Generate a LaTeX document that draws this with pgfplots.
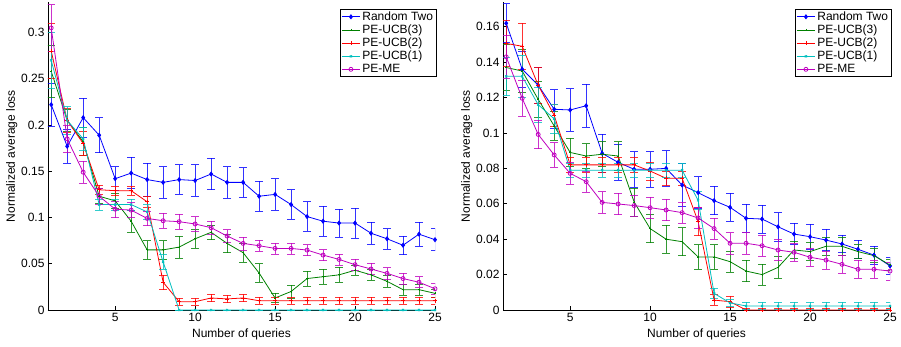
\documentclass[border=0pt]{standalone}
\usepackage{fontspec}
\setmainfont{Liberation Sans}
\usepackage{pgfplots}
\pgfplotsset{compat=1.18}
\definecolor{mblue}{rgb}{0,0,1}
\definecolor{mgreen}{rgb}{0,0.5,0}
\definecolor{mred}{rgb}{1,0,0}
\definecolor{mcyan}{rgb}{0,0.75,0.75}
\definecolor{mmag}{rgb}{0.75,0,0.75}
\pgfplotsset{
  mystyle/.style={
    scale only axis, width=387pt, height=308pt,
    xmin=0.8, xmax=25, ymin=0,
    axis lines*=left,
    xtick={5,10,15,20,25},
    tick align=inside,
    major tick length=4pt,
    tick style={black, line width=0.6pt},
    axis line style={black, line width=0.8pt},
    tick label style={font=\fontsize{12}{14}\selectfont},
    label style={font=\fontsize{12}{14}\selectfont},
    /pgf/number format/assume math mode=true,
    scaled y ticks=false,
    yticklabel style={/pgf/number format/fixed, /pgf/number format/precision=2},
    xlabel={Number of queries}, ylabel={Normalized average loss},
    ylabel style={yshift=-3pt},
    legend style={at={(rel axis cs:1.005,0.978)}, anchor=north east, draw=black, line width=0.8pt,
      font=\fontsize{12}{13}\selectfont, inner sep=1.5pt, row sep=1pt, cells={anchor=west},
      nodes={inner ysep=1pt, inner xsep=2pt}},
  },
  ser/.style n args={3}{color=#1, mark=#2, mark size=#3, line width=0.8pt, mark options={solid, fill=#1},
    /pgfplots/error bars/y dir=both, /pgfplots/error bars/y explicit,
    /pgfplots/error bars/error bar style={line width=0.7pt, #1, opacity=0.8},
    /pgfplots/error bars/error mark options={rotate=90, #1, mark size=4pt, line width=0.7pt, opacity=0.8},
    /pgfplots/legend image code/.code={\draw[color=#1, line width=0.8pt, mark=#2, mark size=#3,
      mark options={solid, fill=#1}, mark repeat=2, mark phase=2]
      plot coordinates {(0pt,0pt) (9pt,0pt) (18pt,0pt)};}},
}
\begin{document}
\begin{tikzpicture}
\useasboundingbox (-48pt,-36pt) rectangle (853pt,310pt);
\begin{axis}[mystyle, ymax=0.333, ytick={0,0.05,0.1,0.15,0.2,0.25,0.3}]
\addplot[ser={mblue}{diamond*}{2pt}] table[x=x,y=y,y error=e] {
x y e
1 0.222 0.023
2 0.177 0.018
3 0.208 0.021
4 0.189 0.019
5 0.142 0.013
6 0.148 0.017
7 0.141 0.018
8 0.138 0.017
9 0.141 0.016
10 0.140 0.017
11 0.147 0.017
12 0.138 0.017
13 0.138 0.016
14 0.123 0.016
15 0.125 0.017
16 0.114 0.016
17 0.101 0.016
18 0.096 0.016
19 0.094 0.015
20 0.094 0.016
21 0.083 0.012
22 0.077 0.011
23 0.070 0.010
24 0.082 0.013
25 0.076 0.012
};
\addlegendentry{Random Two}
\addplot[ser={mgreen}{+}{1pt}] table[x=x,y=y,y error=e] {
x y e
1 0.258 0.028
2 0.205 0.012
3 0.182 0.015
4 0.123 0.008
5 0.118 0.008
6 0.096 0.012
7 0.065 0.010
8 0.065 0.010
9 0.068 0.012
10 0.077 0.010
11 0.084 0.008
12 0.072 0.010
13 0.062 0.010
14 0.040 0.010
15 0.013 0.005
16 0.020 0.007
17 0.034 0.008
18 0.036 0.008
19 0.038 0.008
20 0.043 0.005
21 0.038 0.006
22 0.031 0.006
23 0.022 0.006
24 0.022 0.006
25 0.018 0.004
};
\addlegendentry{PE-UCB(3)}
\addplot[ser={mred}{+}{2pt}] table[x=x,y=y,y error=e] {
x y e
1 0.280 0.030
2 0.205 0.013
3 0.180 0.013
4 0.130 0.005
5 0.129 0.005
6 0.129 0.005
7 0.117 0.006
8 0.030 0.008
9 0.009 0.004
10 0.009 0.004
11 0.013 0.004
12 0.012 0.004
13 0.013 0.004
14 0.010 0.004
15 0.010 0.004
16 0.010 0.004
17 0.010 0.004
18 0.010 0.004
19 0.010 0.004
20 0.010 0.004
21 0.010 0.004
22 0.010 0.004
23 0.010 0.004
24 0.010 0.004
25 0.010 0.004
};
\addlegendentry{PE-UCB(2)}
\addplot[ser={mcyan}{x}{1.5pt}] table[x=x,y=y,y error=e] {
x y e
1 0.270 0.030
2 0.205 0.015
3 0.185 0.012
4 0.114 0.006
5 0.114 0.006
6 0.114 0.006
7 0.106 0.008
8 0.052 0.008
9 0 0
10 0 0
11 0 0
12 0 0
13 0 0
14 0 0
15 0 0
16 0 0
17 0 0
18 0 0
19 0 0
20 0 0
21 0 0
22 0 0
23 0 0
24 0 0
25 0 0
};
\addlegendentry{PE-UCB(1)}
\addplot[ser={mmag}{o}{2pt}] table[x=x,y=y,y error=e] {
x y e
1 0.305 0.025
2 0.185 0.015
3 0.149 0.012
4 0.123 0.009
5 0.109 0.009
6 0.108 0.008
7 0.099 0.008
8 0.0965 0.008
9 0.0955 0.008
10 0.093 0.008
11 0.089 0.007
12 0.080 0.007
13 0.072 0.007
14 0.0695 0.006
15 0.0666 0.006
16 0.0666 0.006
17 0.0648 0.006
18 0.0594 0.006
19 0.0547 0.006
20 0.049 0.006
21 0.0443 0.006
22 0.0396 0.006
23 0.034 0.006
24 0.030 0.006
25 0.023 0.006
};
\addlegendentry{PE-ME}
\end{axis}
\begin{axis}[mystyle, at={(455pt,0pt)}, ymax=0.174, ytick={0,0.02,0.04,0.06,0.08,0.1,0.12,0.14,0.16}]
\addplot[ser={mblue}{diamond*}{2pt}] table[x=x,y=y,y error=e] {
x y e
1 0.162 0.011
2 0.136 0.010
3 0.127 0.010
4 0.1134 0.011
5 0.113 0.012
6 0.1154 0.012
7 0.0885 0.011
8 0.0834 0.010
9 0.0795 0.010
10 0.0795 0.010
11 0.080 0.010
12 0.0706 0.012
13 0.0663 0.009
14 0.0618 0.008
15 0.058 0.008
16 0.0518 0.008
17 0.0514 0.008
18 0.047 0.008
19 0.0429 0.006
20 0.0414 0.007
21 0.0395 0.006
22 0.0373 0.005
23 0.0343 0.005
24 0.031 0.005
25 0.0249 0.005
};
\addlegendentry{Random Two}
\addplot[ser={mgreen}{+}{1pt}] table[x=x,y=y,y error=e] {
x y e
1 0.137 0.013
2 0.135 0.012
3 0.119 0.010
4 0.104 0.008
5 0.089 0.008
6 0.087 0.007
7 0.088 0.007
8 0.087 0.008
9 0.061 0.008
10 0.046 0.008
11 0.040 0.008
12 0.0386 0.008
13 0.030 0.007
14 0.030 0.007
15 0.0273 0.006
16 0.022 0.006
17 0.020 0.006
18 0.0241 0.006
19 0.0339 0.005
20 0.033 0.005
21 0.036 0.005
22 0.036 0.005
23 0.033 0.004
24 0.0307 0.004
25 0.0254 0.003
};
\addlegendentry{PE-UCB(3)}
\addplot[ser={mred}{+}{2pt}] table[x=x,y=y,y error=e] {
x y e
1 0.1506 0.013
2 0.149 0.013
3 0.127 0.010
4 0.110 0.006
5 0.082 0.004
6 0.082 0.004
7 0.082 0.004
8 0.082 0.004
9 0.082 0.004
10 0.0785 0.005
11 0.0744 0.004
12 0.0744 0.004
13 0.050 0.008
14 0.0056 0.003
15 0.0047 0.003
16 0.0 0.001
17 0.0 0.001
18 0.0 0.001
19 0.0 0.001
20 0.0 0.001
21 0.0 0.001
22 0.0 0.001
23 0.0 0.001
24 0.0 0.001
25 0.0 0.001
};
\addlegendentry{PE-UCB(2)}
\addplot[ser={mcyan}{x}{1.5pt}] table[x=x,y=y,y error=e] {
x y e
1 0.132 0.011
2 0.132 0.012
3 0.116 0.010
4 0.108 0.008
5 0.079 0.004
6 0.079 0.004
7 0.079 0.004
8 0.079 0.004
9 0.079 0.004
10 0.079 0.004
11 0.079 0.004
12 0.079 0.004
13 0.062 0.005
14 0.0094 0.003
15 0.004 0.002
16 0.0023 0.002
17 0.0023 0.002
18 0.0023 0.002
19 0.0023 0.002
20 0.0023 0.002
21 0.0023 0.002
22 0.0023 0.002
23 0.0023 0.002
24 0.0023 0.002
25 0.0023 0.002
};
\addlegendentry{PE-UCB(1)}
\addplot[ser={mmag}{o}{2pt}] table[x=x,y=y,y error=e] {
x y e
1 0.143 0.012
2 0.1196 0.010
3 0.0992 0.008
4 0.0876 0.007
5 0.0772 0.006
6 0.0725 0.006
7 0.0608 0.006
8 0.0599 0.006
9 0.059 0.006
10 0.0578 0.006
11 0.0565 0.006
12 0.055 0.006
13 0.052 0.006
14 0.046 0.006
15 0.0377 0.006
16 0.0377 0.006
17 0.0363 0.006
18 0.0339 0.006
19 0.0326 0.005
20 0.0298 0.005
21 0.0282 0.005
22 0.0258 0.005
23 0.023 0.005
24 0.023 0.005
25 0.022 0.005
};
\addlegendentry{PE-ME}
\end{axis}
\end{tikzpicture}
\end{document}
